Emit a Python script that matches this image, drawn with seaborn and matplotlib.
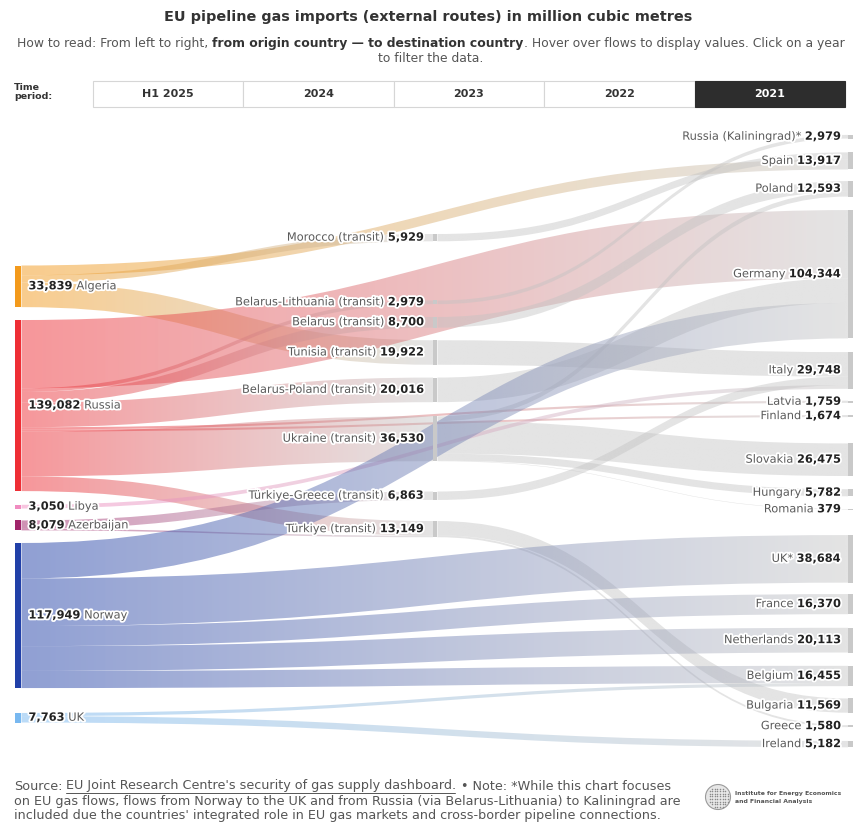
import numpy as np
import matplotlib
matplotlib.use("Agg")
import matplotlib.pyplot as plt
from matplotlib.path import Path
from matplotlib.patches import PathPatch, Rectangle, Circle
import matplotlib.patheffects as pe
import seaborn as sns

sns.set_theme(style="white")
plt.rcParams["font.family"] = ["DejaVu Sans"]

# ---------------- data: pipeline gas flows 2021, million cubic metres ----------------
origins = ["Algeria", "Russia", "Libya", "Azerbaijan", "Norway", "UK"]
origin_values = [33839, 139082, 3050, 8079, 117949, 7763]
origin_colors = ["#F39A1C", "#EE2E35", "#F08CC0", "#A0246A", "#2140A8", "#78B8F0"]

transits = ["Morocco (transit)", "Belarus-Lithuania (transit)", "Belarus (transit)",
            "Tunisia (transit)", "Belarus-Poland (transit)", "Ukraine (transit)",
            "Türkiye-Greece (transit)", "Türkiye (transit)"]
transit_values = [5929, 2979, 8700, 19922, 20016, 36530, 6863, 13149]

destinations = ["Russia (Kaliningrad)*", "Spain", "Poland", "Germany", "Italy", "Latvia",
                "Finland", "Slovakia", "Hungary", "Romania", "UK*", "France",
                "Netherlands", "Belgium", "Bulgaria", "Greece", "Ireland"]
destination_values = [2979, 13917, 12593, 104344, 29748, 1759, 1674, 26475, 5782, 379,
                      38684, 16370, 20113, 16455, 11569, 1580, 5182]

flow_sources = ["Algeria", "Algeria", "Algeria", "Morocco (transit)", "Tunisia (transit)",
                "Russia", "Russia", "Russia", "Russia", "Russia", "Russia", "Russia", "Russia",
                "Belarus-Lithuania (transit)", "Belarus (transit)", "Belarus-Poland (transit)",
                "Ukraine (transit)", "Ukraine (transit)", "Ukraine (transit)", "Ukraine (transit)",
                "Libya", "Azerbaijan", "Azerbaijan", "Türkiye-Greece (transit)",
                "Türkiye (transit)", "Türkiye (transit)",
                "Norway", "Norway", "Norway", "Norway", "Norway", "UK", "UK"]
flow_targets = ["Spain", "Morocco (transit)", "Tunisia (transit)", "Spain", "Italy",
                "Germany", "Belarus-Lithuania (transit)", "Belarus (transit)",
                "Belarus-Poland (transit)", "Latvia", "Finland", "Ukraine (transit)",
                "Türkiye (transit)",
                "Russia (Kaliningrad)*", "Poland", "Germany",
                "Poland", "Slovakia", "Hungary", "Romania",
                "Italy", "Türkiye-Greece (transit)", "Türkiye (transit)", "Italy",
                "Bulgaria", "Greece",
                "Germany", "UK*", "France", "Netherlands", "Belgium", "Belgium", "Ireland"]
flow_values = [7988, 5929, 19922, 5929, 19922,
               55491, 2979, 8700, 20016, 1759, 1674, 36530, 11933,
               2979, 8700, 20016,
               3893, 26475, 5782, 379,
               3050, 6863, 1216, 6863,
               11569, 1580,
               28837, 38684, 16370, 20113, 13945, 2581, 5182]

periods = ["H1 2025", "2024", "2023", "2022", "2021"]
selected_period = "2021"

# ---------------- layout (pixels) ----------------
W, H = 856, 826
PX_PER_MCM = 1.23 / 1000
col_left = [15.5, 433.0, 848.0]
col_width = [6.0, 4.5, 5.0]
col_gaps = [
    [265.5, 12.9, 13.7, 11.9, 12.6, 24.9],
    [234.0, 59.2, 12.8, 12.6, 12.8, 14.1, 30.3, 21.1],
    [134.9, 13.8, 11.6, 13.5, 13.7, 12.0, 12.2, 26.3, 13.2, 12.8, 25.5, 11.4,
     13.6, 13.3, 12.4, 12.5, 13.8],
]
NODE_GRAY = "#c9c9c9"
LINK_GRAY = "#c2c2c2"
ALPHA_START, ALPHA_END = 0.5, 0.44

fig = plt.figure(figsize=(W / 100, H / 100), dpi=100)
ax = fig.add_axes([0, 0, 1, 1])
ax.set_xlim(0, W)
ax.set_ylim(H, 0)
ax.axis("off")
R = fig.canvas.get_renderer()

nodes = {}
for c, (names, vals) in enumerate([(origins, origin_values), (transits, transit_values),
                                   (destinations, destination_values)]):
    y = 0.0
    for name, v, g in zip(names, vals, col_gaps[c]):
        y += g
        h = v * PX_PER_MCM
        nodes[name] = dict(col=c, top=y, h=h, value=v)
        y += h
for name, col in zip(origins, origin_colors):
    nodes[name]["color"] = col
for name in transits + destinations:
    nodes[name]["color"] = NODE_GRAY

links = [dict(s=s, t=t, v=v, w=v * PX_PER_MCM)
         for s, t, v in zip(flow_sources, flow_targets, flow_values)]

# stack links at each node: outgoing ordered by target position, incoming by source position
for name, nd in nodes.items():
    outs = sorted([l for l in links if l["s"] == name], key=lambda l: nodes[l["t"]]["top"])
    y = nd["top"]
    for l in outs:
        l["y0"] = y
        y += l["w"]
    ins = sorted([l for l in links if l["t"] == name], key=lambda l: nodes[l["s"]]["top"])
    y = nd["top"]
    for l in ins:
        l["y1"] = y
        y += l["w"]


def link_path(x0, x1, y0, y1, w):
    xm = (x0 + x1) / 2
    verts = [(x0, y0), (xm, y0), (xm, y1), (x1, y1),
             (x1, y1 + w), (xm, y1 + w), (xm, y0 + w), (x0, y0 + w), (x0, y0)]
    codes = [Path.MOVETO, Path.CURVE4, Path.CURVE4, Path.CURVE4,
             Path.LINETO, Path.CURVE4, Path.CURVE4, Path.CURVE4, Path.CLOSEPOLY]
    return Path(verts, codes)


for l in links:
    s, t = nodes[l["s"]], nodes[l["t"]]
    x0 = col_left[s["col"]] + col_width[s["col"]]
    x1 = col_left[t["col"]]
    from_origin = s["col"] == 0
    c0 = s["color"] if from_origin else LINK_GRAY
    grad = np.array(sns.blend_palette([c0, LINK_GRAY], n_colors=128))
    rgba = np.zeros((1, 128, 4))
    rgba[0, :, :3] = grad[:, :3]
    rgba[0, :, 3] = np.linspace(ALPHA_START if from_origin else ALPHA_END, ALPHA_END, 128)
    path = link_path(x0, x1, l["y0"], l["y1"], l["w"])
    patch = PathPatch(path, facecolor="none", edgecolor="none")
    ax.add_patch(patch)
    ylo = min(l["y0"], l["y1"]) - 1
    yhi = max(l["y0"], l["y1"]) + l["w"] + 1
    im = ax.imshow(rgba, extent=(x0, x1, yhi, ylo), aspect="auto",
                   interpolation="bilinear", zorder=1)
    im.set_clip_path(patch)

for name, nd in nodes.items():
    c = nd["col"]
    ax.add_patch(Rectangle((col_left[c], nd["top"]), col_width[c], max(nd["h"], 0.8),
                           facecolor=nd["color"], edgecolor="none", zorder=3))


# ---------------- text helpers ----------------
def text_w(s, size, weight):
    t = ax.text(0, 0, s, fontsize=size, fontweight=weight)
    w = t.get_window_extent(renderer=R).width
    t.remove()
    return w


def draw_runs(parts, x, y, ha="left", size=7.3, halo=False, va="center", zorder=6):
    """parts: (text, weight, color, space_before)"""
    sp = text_w("a a", size, "normal") - text_w("aa", size, "normal")
    widths = [text_w(p[0], size, p[1]) for p in parts]
    total = sum(widths) + sp * sum(1 for p in parts[1:] if p[3])
    x0 = x - total if ha == "right" else (x - total / 2 if ha == "center" else x)
    placed = []
    for i, (p, w) in enumerate(zip(parts, widths)):
        if i > 0 and p[3]:
            x0 += sp
        t = ax.text(x0, y, p[0], fontsize=size, fontweight=p[1], color=p[2],
                    ha="left", va=va, zorder=zorder)
        if halo:
            t.set_path_effects([pe.withStroke(linewidth=2.6, foreground="white")])
        placed.append((x0, w))
        x0 += w
    return placed


NAME_C = "#5a5a5a"
NUM_C = "#222222"
LABEL = 8.2

for name, v in zip(origins, origin_values):
    nd = nodes[name]
    draw_runs([(f"{v:,}", "bold", NUM_C, False), (name, "normal", NAME_C, True)],
              col_left[0] + col_width[0] + 7, nd["top"] + nd["h"] / 2, size=LABEL, halo=True)
for name, v in zip(transits, transit_values):
    nd = nodes[name]
    draw_runs([(name, "normal", NAME_C, False), (f"{v:,}", "bold", NUM_C, True)],
              col_left[1] - 9, nd["top"] + nd["h"] / 2, ha="right", size=LABEL, halo=True)
for name, v in zip(destinations, destination_values):
    nd = nodes[name]
    draw_runs([(name, "normal", NAME_C, False), (f"{v:,}", "bold", NUM_C, True)],
              col_left[2] - 7, nd["top"] + nd["h"] / 2, ha="right", size=LABEL, halo=True)

# ---------------- header ----------------
ax.text(W / 2, 17, "EU pipeline gas imports (external routes) in million cubic metres",
        fontsize=10.4, fontweight="bold", color="#333333", ha="center", va="center")
draw_runs([("How to read: From left to right,", "normal", "#555555", False),
           ("from origin country — to destination country", "bold", "#333333", True),
           (". Hover over flows to display values. Click on a year", "normal", "#555555", False)],
          431, 44, ha="center", size=8.9)
ax.text(431, 58, "to filter the data.", fontsize=8.9, color="#555555", ha="center", va="center")

ax.text(14, 92, "Time\nperiod:", fontsize=6.8, fontweight="bold", color="#333333",
        ha="left", va="center", linespacing=1.0)
bx0, bx1, by0, by1 = 93, 845, 81, 107
seg = (bx1 - bx0) / len(periods)
for i, p in enumerate(periods):
    sel = p == selected_period
    ax.add_patch(Rectangle((bx0 + i * seg, by0), seg, by1 - by0,
                           facecolor="#2d2d2d" if sel else "white",
                           edgecolor="#2d2d2d" if sel else "#d6d6d6", lw=0.8, zorder=2))
    ax.text(bx0 + (i + 0.5) * seg, (by0 + by1) / 2, p, fontsize=8.0, fontweight="bold",
            color="white" if sel else "#333333", ha="center", va="center", zorder=3)

# ---------------- footer ----------------
FOOT = 9.2
FC = "#555555"
placed = draw_runs([("Source:", "normal", FC, False),
                    ("EU Joint Research Centre's security of gas supply dashboard.", "normal", FC, True),
                    ("• Note: *While this chart focuses", "normal", FC, True)],
                   14, 786, size=FOOT)
lx, lw = placed[1]
ax.plot([lx, lx + lw - 2], [793, 793], color=FC, lw=0.7)
ax.text(14, 801, "on EU gas flows, flows from Norway to the UK and from Russia (via Belarus-Lithuania) to Kaliningrad are",
        fontsize=FOOT, color=FC, ha="left", va="center")
ax.text(14, 816, "included due the countries' integrated role in EU gas markets and cross-border pipeline connections.",
        fontsize=FOOT, color=FC, ha="left", va="center")

# logo
cx, cy, r = 718, 797, 12.5
ax.add_patch(Circle((cx, cy), r, facecolor="#e6e6e6", edgecolor="#9a9a9a", lw=0.8))
gx, gy = np.meshgrid(np.arange(-11, 12, 2.6), np.arange(-11, 12, 2.6))
inside = gx ** 2 + gy ** 2 < (r - 1.5) ** 2
ax.scatter(cx + gx[inside], cy + gy[inside], s=1.2, color="#8a8a8a", lw=0)
ax.text(735, 793, "Institute for Energy Economics", fontsize=4.4, fontweight="bold",
        color="#555555", ha="left", va="center")
ax.text(735, 801, "and Financial Analysis", fontsize=4.4, fontweight="bold",
        color="#555555", ha="left", va="center")

ax.set_xlim(0, W)
ax.set_ylim(H, 0)
fig.savefig("out.png", dpi=100, facecolor="white")
